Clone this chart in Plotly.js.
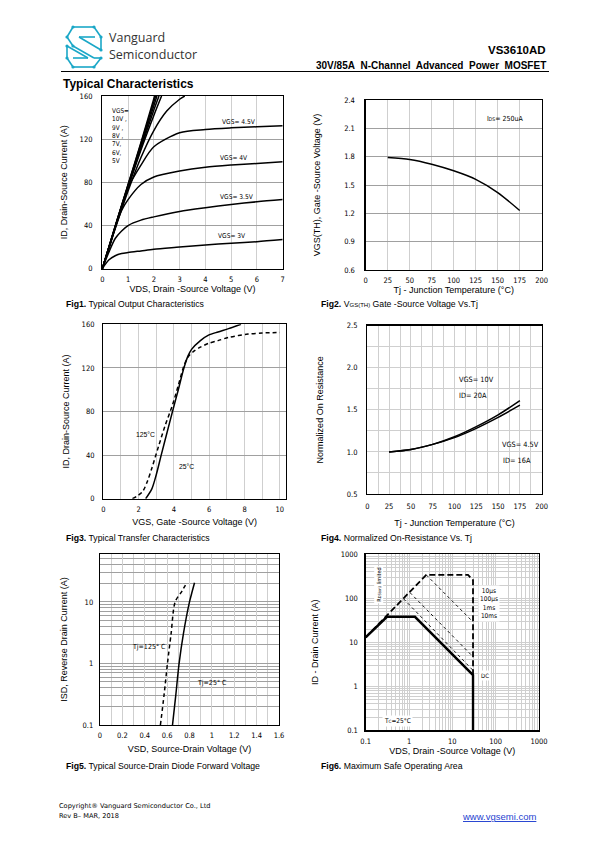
<!DOCTYPE html>
<html><head><meta charset="utf-8">
<script src="https://cdn.plot.ly/plotly-3.0.1.min.js"></script>
<style>html,body{margin:0;padding:0;background:#fff}#chart{width:595px;height:842px}</style>
</head><body><div id="chart"></div>
<script>
// ---------- Fig1: output characteristics ----------
const f1VdsSat = [0, 0.25, 0.5, 0.75, 1, 1.5, 2, 3, 4, 5, 6, 7];
const f1Id3v   = [0, 8, 12, 14, 15, 16.5, 18, 20, 22, 23.5, 25, 27];
const f1Id3v5  = [0, 15, 28, 35, 40, 45, 48, 53, 56.5, 59.5, 62, 64];
const f1Id4v   = [0, 18, 38, 54, 64, 78, 85, 90.5, 94, 96, 97.5, 99];
const f1Id4v5  = [0, 19, 39, 58, 75, 96, 113, 126, 129, 130.5, 131.5, 132.5];
const f1Vds5v  = [0, 0.5, 1, 1.5, 2, 2.5, 3, 3.2];
const f1Id5v   = [0, 37, 72, 103, 128, 146, 157, 160];
const f1Vds6v  = [0, 0.5, 1, 1.5, 2, 2.3];
const f1Id6v   = [0, 38, 75, 110, 142, 160];
const f1Vds7v  = [0, 0.5, 1, 1.5, 2, 2.2];
const f1Id7v   = [0, 38.5, 76, 112, 147, 160];
const f1Vds8v  = [0, 0.5, 1, 1.5, 2.12];
const f1Id8v   = [0, 39, 77, 114, 160];
const f1Vds9v  = [0, 0.5, 1, 1.5, 2.07];
const f1Id9v   = [0, 39, 77.5, 116, 160];
const f1Vds10v = [0, 0.5, 1, 1.5, 2.03];
const f1Id10v  = [0, 39.5, 78, 117, 160];
// ---------- Fig2: threshold vs Tj ----------
const f2Tj  = [25, 50, 75, 100, 125, 150, 175];
const f2Vth = [1.79, 1.77, 1.72, 1.65, 1.56, 1.42, 1.23];
// ---------- Fig3: transfer ----------
const f3Vgs25  = [2.4, 2.75, 3.0, 3.28, 3.6, 3.92, 4.25, 4.55, 4.8, 5.0, 5.5, 5.96, 6.5, 7.1, 7.8];
const f3Id25   = [0, 9, 22, 40, 60, 80, 100, 119, 131, 137, 145, 150, 153, 156, 160];
const f3Vgs125 = [1.65, 2.2, 2.5, 2.75, 3.13, 3.5, 3.92, 4.25, 4.55, 4.8, 5.1, 5.5, 5.96, 6.5, 7.1, 8.2, 9.0, 10];
const f3Id125  = [0, 6, 16, 28, 48, 67, 86, 104, 121, 130, 135, 139, 142.5, 145, 148, 151, 152, 152.5];
// ---------- Fig4: normalized Rds(on) ----------
const f4Tj   = [25, 50, 75, 100, 125, 150, 175];
const f4R10  = [1.0, 1.03, 1.09, 1.18, 1.30, 1.44, 1.61];
const f4R45  = [1.0, 1.03, 1.09, 1.17, 1.28, 1.41, 1.555];
// ---------- Fig5: body diode ----------
const f5Vsd25  = [0.648, 0.677, 0.707, 0.745, 0.8, 0.825, 0.845];
const f5Isd25  = [0.1, 0.3, 1, 3, 10, 15, 20.5];
const f5Vsd125 = [0.54, 0.572, 0.603, 0.635, 0.672, 0.733, 0.776];
const f5Isd125 = [0.1, 0.3, 1, 3, 10, 15, 20.5];
// ---------- Fig6: SOA ----------
const f6DcV    = [0.1, 0.31, 1.37, 30, 30];
const f6DcI    = [13, 38, 38, 1.8, 0.1];
const f6T10usV = [0.1, 2.5, 23, 30, 30];
const f6T10usI = [13, 340, 340, 260, 1.8];
const f6T100usV = [2.5, 30];
const f6T100usI = [340, 29];
const f6T1msV  = [1.05, 30];
const f6T1msI  = [135, 4.7];
const f6T10msV = [0.75, 30];
const f6T10msI = [97, 2.3];

// ---------- layout helpers ----------
const W = 595, H = 842;
const px = x => x / W;
const py = y => 1 - y / H;
const NARROW = 'Liberation Sans Narrow, DejaVu Sans Condensed, Arial Narrow, sans-serif';
const ARIAL = 'Liberation Sans, Arial, sans-serif';
const GRID_L = '#cfcfcf', GRID_D = '#a0a0a0';

function logVals(lo, hi) { // 1..9 multiples per decade
  const v = [];
  for (let e = lo; e < hi; e++) for (let m = 1; m < 10; m++) v.push(+(m * Math.pow(10, e)).toPrecision(6));
  v.push(Math.pow(10, hi));
  return v;
}
function seq(a, b, s) { const r = []; for (let v = a; v <= b + 1e-9; v += s) r.push(+v.toFixed(4)); return r; }

function ax(o) {
  const base = {
    showline: true, mirror: true, linecolor: '#000', linewidth: 1.3,
    zeroline: false, ticks: '', showgrid: true, gridwidth: 1,
    tickfont: { family: NARROW, size: 7.5, color: '#000' },
    fixedrange: true
  };
  const r = Object.assign(base, o);
  r.title = { text: o.titleText || '', standoff: o.standoffT, font: { family: ARIAL, size: 9, color: '#000' } };
  delete r.titleText; delete r.standoffT;
  return r;
}
const minorGrid = (vals, color) => ({ tickmode: 'array', tickvals: vals, showgrid: true, gridcolor: color, gridwidth: 1, ticks: '' });

const line = (x, y, xa, ya, opt) => ({
  x, y, xaxis: xa, yaxis: ya, type: 'scatter', mode: 'lines',
  line: Object.assign({ color: '#000', width: 1.5, shape: 'spline', smoothing: 0.8 }, opt || {}),
  hoverinfo: 'skip', showlegend: false
});

const data = [
  line(f1VdsSat, f1Id3v, 'x', 'y'),
  line(f1VdsSat, f1Id3v5, 'x', 'y'),
  line(f1VdsSat, f1Id4v, 'x', 'y'),
  line(f1VdsSat, f1Id4v5, 'x', 'y'),
  line(f1Vds5v, f1Id5v, 'x', 'y'),
  line(f1Vds6v, f1Id6v, 'x', 'y'),
  line(f1Vds7v, f1Id7v, 'x', 'y'),
  line(f1Vds8v, f1Id8v, 'x', 'y'),
  line(f1Vds9v, f1Id9v, 'x', 'y'),
  line(f1Vds10v, f1Id10v, 'x', 'y'),
  line(f2Tj, f2Vth, 'x2', 'y2'),
  line(f3Vgs25, f3Id25, 'x3', 'y3'),
  line(f3Vgs125, f3Id125, 'x3', 'y3', { dash: '4px,3px' }),
  line(f4Tj, f4R10, 'x4', 'y4'),
  line(f4Tj, f4R45, 'x4', 'y4'),
  line(f5Vsd25, f5Isd25, 'x5', 'y5'),
  line(f5Vsd125, f5Isd125, 'x5', 'y5', { dash: '4px,3px' }),
  line(f6DcV, f6DcI, 'x6', 'y6', { width: 2.4, shape: 'linear' }),
  line(f6T10usV, f6T10usI, 'x6', 'y6', { width: 1.8, shape: 'linear', dash: '6px,3px' }),
  line(f6T100usV, f6T100usI, 'x6', 'y6', { width: 0.9, shape: 'linear', dash: '3px,3px' }),
  line(f6T1msV, f6T1msI, 'x6', 'y6', { width: 0.9, shape: 'linear', dash: '3px,3px' }),
  line(f6T10msV, f6T10msI, 'x6', 'y6', { width: 0.9, shape: 'linear', dash: '3px,3px' })
];

// tick arrays (labelled majors + unlabelled minor grid)
const f3TickVals = seq(0, 10, 2);
const f3MinorVals = seq(1, 9, 2);
const f4XTickVals = seq(0, 200, 25);
const f4XMinorVals = seq(12.5, 187.5, 25);
const f4YTickVals = seq(0.5, 2.5, 0.5);
const f4YTickText = f4YTickVals.map(v => v.toFixed(1));
const f4YMinorVals = seq(0.75, 2.25, 0.5);
const f5XTickVals = seq(0, 1.6, 0.2);
const f5XTickText = f5XTickVals.map(v => String(+v.toFixed(1)));
const f5XMinorVals = seq(0.1, 1.5, 0.2);
const f5YTickVals = [0.1, 1, 10];
const f5YTickText = ['0.1', '1', '10'];
const f5YMinorVals = logVals(-1, 1).concat([20, 30, 40, 50]);
const f6TickVals = [0.1, 1, 10, 100, 1000];
const f6TickText = ['0.1', '1', '10', '100', '1000'];
const f6MinorVals = logVals(-1, 3);

const layout = {
  width: W, height: H, margin: { l: 0, r: 0, t: 0, b: 0 },
  paper_bgcolor: '#fff', plot_bgcolor: '#fff', showlegend: false,
  xaxis: ax({ domain: [px(102.3), px(282.7)], anchor: 'y', range: [0, 7], dtick: 1, gridcolor: GRID_L, ticklabelstandoff: 3,
    titleText: 'VDS, Drain -Source Voltage (V)', standoffT: 1 }),
  yaxis: ax({ domain: [py(268.7), py(96)], anchor: 'x', range: [0, 160], dtick: 40, gridcolor: GRID_D, ticklabelstandoff: 7,
    titleText: 'ID, Drain-Source Current (A)', standoffT: 10 }),
  xaxis2: ax({ domain: [px(365.7), px(541.7)], anchor: 'y2', range: [0, 200], dtick: 25, gridcolor: GRID_L, ticklabelstandoff: 3,
    titleText: 'Tj - Junction Temperature (°C)', standoffT: 2 }),
  yaxis2: ax({ domain: [py(270), py(100)], anchor: 'x2', range: [0.6, 2.4], dtick: 0.3, tickformat: '.1f', gridcolor: GRID_D, ticklabelstandoff: 8,
    titleText: 'VGS(TH), Gate -Source Voltage (V)', standoffT: 22 }),
  xaxis3: ax({ domain: [px(103.3), px(286)], anchor: 'y3', range: [0, 10.35], tickmode: 'array', tickvals: f3TickVals,
    minor: minorGrid(f3MinorVals, GRID_L), gridcolor: GRID_L, ticklabelstandoff: 3,
    titleText: 'VGS, Gate -Source Voltage (V)', standoffT: 5 }),
  yaxis3: ax({ domain: [py(498.7), py(324.3)], anchor: 'x3', range: [0, 160], dtick: 40, gridcolor: GRID_D, ticklabelstandoff: 6,
    titleText: 'ID, Drain-Source Current (A)', standoffT: 10 }),
  xaxis4: ax({ domain: [px(367.3), px(541.7)], anchor: 'y4', range: [0, 200], tickmode: 'array', tickvals: f4XTickVals,
    minor: minorGrid(f4XMinorVals, GRID_L), gridcolor: GRID_L, ticklabelstandoff: 5,
    titleText: 'Tj - Junction Temperature (°C)', standoffT: 9 }),
  yaxis4: ax({ domain: [py(494), py(325.7)], anchor: 'x4', range: [0.5, 2.5], tickmode: 'array', tickvals: f4YTickVals, ticktext: f4YTickText,
    minor: minorGrid(f4YMinorVals, GRID_L), gridcolor: GRID_L, ticklabelstandoff: 7,
    titleText: 'Normalized On Resistance', standoffT: 21 }),
  xaxis5: ax({ domain: [px(100), px(279)], anchor: 'y5', range: [0, 1.6], tickmode: 'array', tickvals: f5XTickVals, ticktext: f5XTickText,
    minor: minorGrid(f5XMinorVals, GRID_L), gridcolor: GRID_L, ticklabelstandoff: 3,
    titleText: 'VSD, Source-Drain Voltage (V)', standoffT: 6 }),
  yaxis5: ax({ domain: [py(725), py(554)], anchor: 'x5', type: 'log', range: [-1, Math.log10(60)], tickmode: 'array', tickvals: f5YTickVals, ticktext: f5YTickText,
    minor: minorGrid(f5YMinorVals, GRID_D), gridcolor: GRID_D, ticklabelstandoff: 4,
    titleText: 'ISD, Reverse Drain Current (A)', standoffT: 13 }),
  xaxis6: ax({ domain: [px(365.7), px(539)], anchor: 'y6', type: 'log', range: [-1, 3], tickmode: 'array', tickvals: f6TickVals, ticktext: f6TickText,
    minor: minorGrid(f6MinorVals, GRID_L), gridcolor: GRID_L, ticklabelstandoff: 3,
    titleText: 'VDS, Drain -Source Voltage (V)', standoffT: 2 }),
  yaxis6: ax({ domain: [py(730.3), py(554.3)], anchor: 'x6', type: 'log', range: [-1, 3], tickmode: 'array', tickvals: f6TickVals, ticktext: f6TickText,
    minor: minorGrid(f6MinorVals, GRID_L), gridcolor: GRID_L, ticklabelstandoff: 5,
    titleText: 'ID - Drain Current (A)', standoffT: 20 }),
  annotations: [],
  shapes: []
};

const A = layout.annotations;
function pText(text, x, y, opt) {
  A.push(Object.assign({ text, xref: 'paper', yref: 'paper', x: px(x), y: py(y), showarrow: false,
    xanchor: 'left', yanchor: 'middle', font: { family: ARIAL, size: 9, color: '#000' } }, opt || {}));
}
function dText(text, x, y, xr, yr, opt) {
  A.push(Object.assign({ text, xref: xr, yref: yr, x, y, showarrow: false,
    xanchor: 'left', yanchor: 'middle', font: { family: NARROW, size: 7, color: '#000' } }, opt || {}));
}
const small = (t, s) => '<span style="font-size:' + s + 'px">' + t + '</span>';

// header
pText('Vanguard', 107, 37, { font: { family: 'Open Sans, Noto Sans, sans-serif', size: 12.5, color: '#333' } });
pText('Semiconductor', 107, 55, { font: { family: 'Open Sans, Noto Sans, sans-serif', size: 12.5, color: '#333' } });
pText('<b>VS3610AD</b>', 548, 50, { xanchor: 'right', font: { family: ARIAL, size: 11.5, color: '#000' } });
pText('<b>30V/85A\u00a0 N-Channel\u00a0 Advanced\u00a0 Power\u00a0 MOSFET</b>', 548, 65, { xanchor: 'right', font: { family: ARIAL, size: 10, color: '#000' } });
pText('<b>Typical Characteristics</b>', 61, 84.5, { font: { family: ARIAL, size: 12, color: '#000' } });
layout.shapes.push({ type: 'line', xref: 'paper', yref: 'paper', x0: px(61), x1: px(549), y0: py(71.5), y1: py(71.5), line: { color: '#000', width: 1.2 } });

// logo
const TEAL = '#1aa7c7';
const logoSegs = [
  [[73, 27], [94, 27]], [[94, 27], [101, 37]], [[73, 27], [67, 37]], [[67, 37], [73, 46]],
  [[79, 37], [95, 37]], [[73, 46], [94, 58]], [[79, 37], [101, 50]], [[101, 37], [101, 50]],
  [[67, 46], [67, 58]], [[67, 46], [88, 58]], [[73, 67], [94, 67]], [[94, 67], [101, 58]],
  [[73, 67], [67, 58]], [[94, 58], [101, 58]], [[88, 58], [73, 58]]
];
logoSegs.forEach(s => layout.shapes.push({ type: 'line', xref: 'paper', yref: 'paper',
  x0: px(s[0][0]), y0: py(s[0][1]), x1: px(s[1][0]), y1: py(s[1][1]), line: { color: TEAL, width: 1.6 } }));
[[73, 27], [94, 27], [101, 37], [67, 37], [73, 46], [101, 50], [67, 46], [101, 58], [67, 58], [73, 67], [94, 67]].forEach(p =>
  layout.shapes.push({ type: 'circle', xref: 'paper', yref: 'paper', x0: px(p[0] - 1.6), x1: px(p[0] + 1.6), y0: py(p[1] + 1.6), y1: py(p[1] - 1.6),
    fillcolor: TEAL, line: { width: 0 } }));

// captions
const capFont = { family: ARIAL, size: 8.7, color: '#000' };
pText('<b>Fig1.</b> Typical Output Characteristics', 64, 304, { font: capFont });
pText('<b>Fig2.</b> V' + small('GS(TH)', 6) + ' Gate -Source Voltage Vs.Tj', 319, 304, { font: capFont });
pText('<b>Fig3.</b> Typical Transfer Characteristics', 64, 537.5, { font: capFont });
pText('<b>Fig4.</b> Normalized On-Resistance Vs. Tj', 319, 537.5, { font: capFont });
pText('<b>Fig5.</b> Typical Source-Drain Diode Forward Voltage', 64, 766, { font: capFont });
pText('<b>Fig6.</b> Maximum Safe Operating Area', 319, 766, { font: capFont });

// footer
pText('Copyright® Vanguard Semiconductor Co., Ltd', 57, 805.5, { font: { family: 'DejaVu Sans, sans-serif', size: 6.6, color: '#000' } });
pText('Rev B– MAR, 2018', 57, 816, { font: { family: 'DejaVu Sans, sans-serif', size: 6.6, color: '#000' } });
pText('www.vgsemi.com', 538, 816, { xanchor: 'right', font: { family: ARIAL, size: 9.5, color: '#1f3fd0', lineposition: 'under' } });

// in-plot labels
dText('VGS=<br>10V ,<br>9V ,<br>8V ,<br>7V,<br>6V,<br>5V', 0.28, 123, 'x', 'y', { yanchor: 'middle', align: 'left', font: { family: NARROW, size: 6.4, color: '#000' } });
dText('VGS= 4.5V', 4.55, 136, 'x', 'y', { font: { family: NARROW, size: 6.6, color: '#000' } });
dText('VGS= 4V', 4.5, 103, 'x', 'y', { font: { family: NARROW, size: 6.6, color: '#000' } });
dText('VGS= 3.5V', 4.5, 66, 'x', 'y', { font: { family: NARROW, size: 6.6, color: '#000' } });
dText('VGS= 3V', 4.4, 30, 'x', 'y', { font: { family: NARROW, size: 6.6, color: '#000' } });
dText('I' + small('DS', 5) + '= 250uA', 135, 2.2, 'x2', 'y2', { font: { family: NARROW, size: 7, color: '#000' } });
dText('125°C', 1.75, 59, 'x3', 'y3', { font: { family: ARIAL, size: 6.8, color: '#000' } });
dText('25°C', 4.15, 30, 'x3', 'y3', { font: { family: ARIAL, size: 6.8, color: '#000' } });
dText('VGS= 10V', 103, 1.865, 'x4', 'y4', { font: { family: NARROW, size: 7.3, color: '#000' } });
dText('ID= 20A', 103, 1.67, 'x4', 'y4', { font: { family: NARROW, size: 7.3, color: '#000' } });
dText('VGS= 4.5V', 152, 1.09, 'x4', 'y4', { font: { family: NARROW, size: 7.3, color: '#000' } });
dText('ID= 16A', 153, 0.895, 'x4', 'y4', { font: { family: NARROW, size: 7.3, color: '#000' } });
dText('Tj=125° C', 0.27, Math.log10(1.85), 'x5', 'y5', { font: { family: NARROW, size: 7, color: '#000' } });
dText('Tj=25° C', 0.85, Math.log10(0.49), 'x5', 'y5', { font: { family: NARROW, size: 7, color: '#000' } });
dText('10µs<br>100µs<br>1ms<br>10ms', Math.log10(40), Math.log10(75), 'x6', 'y6', { bgcolor: '#fff', font: { family: NARROW, size: 6.5, color: '#000' } });
dText('DC', Math.log10(42), Math.log10(1.75), 'x6', 'y6', { bgcolor: '#fff', font: { family: NARROW, size: 6, color: '#000' } });
dText('T' + small('C', 4.5) + '=25°C', Math.log10(0.24), Math.log10(0.165), 'x6', 'y6', { bgcolor: '#fff', font: { family: NARROW, size: 6.5, color: '#000' } });
dText('R' + small('DS(on)', 4) + ' limited', Math.log10(0.2), Math.log10(200), 'x6', 'y6', { textangle: -90, xanchor: 'center', bgcolor: '#fff', font: { family: NARROW, size: 5.5, color: '#000' } });

Plotly.newPlot('chart', data, layout, { staticPlot: true, displayModeBar: false });
</script>
</body></html>
